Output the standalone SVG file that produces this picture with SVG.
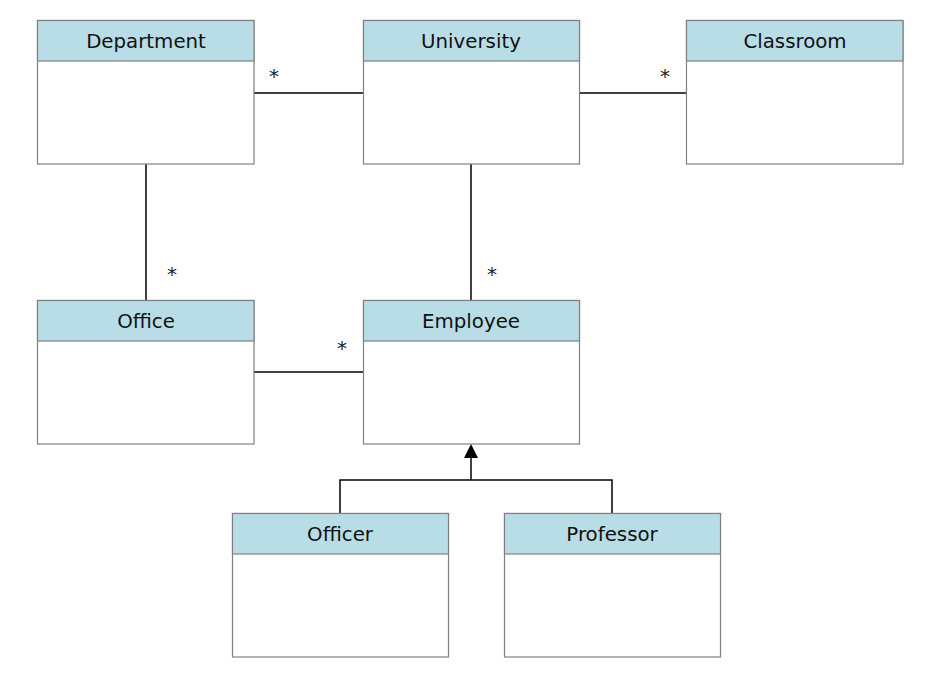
<svg xmlns="http://www.w3.org/2000/svg" width="949" height="691" viewBox="0 0 949 691">
<defs>
<style>
.box{fill:#ffffff;stroke:#808080;stroke-width:1.2}
.hdr{fill:#b8dde6;stroke:#808080;stroke-width:1.2}
.name{font-family:"DejaVu Sans",Verdana,sans-serif;font-size:19.8px;fill:#111;text-anchor:middle}
.mult{font-family:"DejaVu Sans",Verdana,sans-serif;font-size:20px;fill:#222;text-anchor:middle}
.edge{fill:none;stroke:#000;stroke-width:1.5}
</style>
</defs>
<rect width="949" height="691" fill="#ffffff"/>
<g id="connectors">
<path class="edge" d="M254,93 H363"/>
<path class="edge" d="M579,93 H686"/>
<path class="edge" d="M146,164 V300"/>
<path class="edge" d="M471,164 V300"/>
<path class="edge" d="M254,372 H363"/>
<path class="edge" d="M340,513 V480 H612 V513"/>
<path class="edge" d="M471,480 V457"/>
<polygon points="471,444 464,458 478,458" fill="#000"/>
<text class="mult" x="274" y="83">*</text>
<text class="mult" x="665" y="83">*</text>
<text class="mult" x="172" y="281">*</text>
<text class="mult" x="492" y="281">*</text>
<text class="mult" x="342" y="355">*</text>
</g>
<g id="department">
<rect class="box" x="37.5" y="20.5" width="216.5" height="143.5"/>
<rect class="hdr" x="37.5" y="20.5" width="216.5" height="40.5"/>
<text class="name" x="146" y="47.5">Department</text>
</g>
<g id="university">
<rect class="box" x="363.5" y="20.5" width="216" height="143.5"/>
<rect class="hdr" x="363.5" y="20.5" width="216" height="40.5"/>
<text class="name" x="471" y="47.5">University</text>
</g>
<g id="classroom">
<rect class="box" x="686.5" y="20.5" width="216.5" height="143.5"/>
<rect class="hdr" x="686.5" y="20.5" width="216.5" height="40.5"/>
<text class="name" x="795" y="47.5">Classroom</text>
</g>
<g id="office">
<rect class="box" x="37.5" y="300.5" width="216.5" height="143.5"/>
<rect class="hdr" x="37.5" y="300.5" width="216.5" height="40.5"/>
<text class="name" x="146" y="327.5">Office</text>
</g>
<g id="employee">
<rect class="box" x="363.5" y="300.5" width="216" height="143.5"/>
<rect class="hdr" x="363.5" y="300.5" width="216" height="40.5"/>
<text class="name" x="471" y="327.5">Employee</text>
</g>
<g id="officer">
<rect class="box" x="232.5" y="513.5" width="216" height="143.5"/>
<rect class="hdr" x="232.5" y="513.5" width="216" height="40.5"/>
<text class="name" x="340" y="540.5">Officer</text>
</g>
<g id="professor">
<rect class="box" x="504.5" y="513.5" width="216" height="143.5"/>
<rect class="hdr" x="504.5" y="513.5" width="216" height="40.5"/>
<text class="name" x="612" y="540.5">Professor</text>
</g>
</svg>
